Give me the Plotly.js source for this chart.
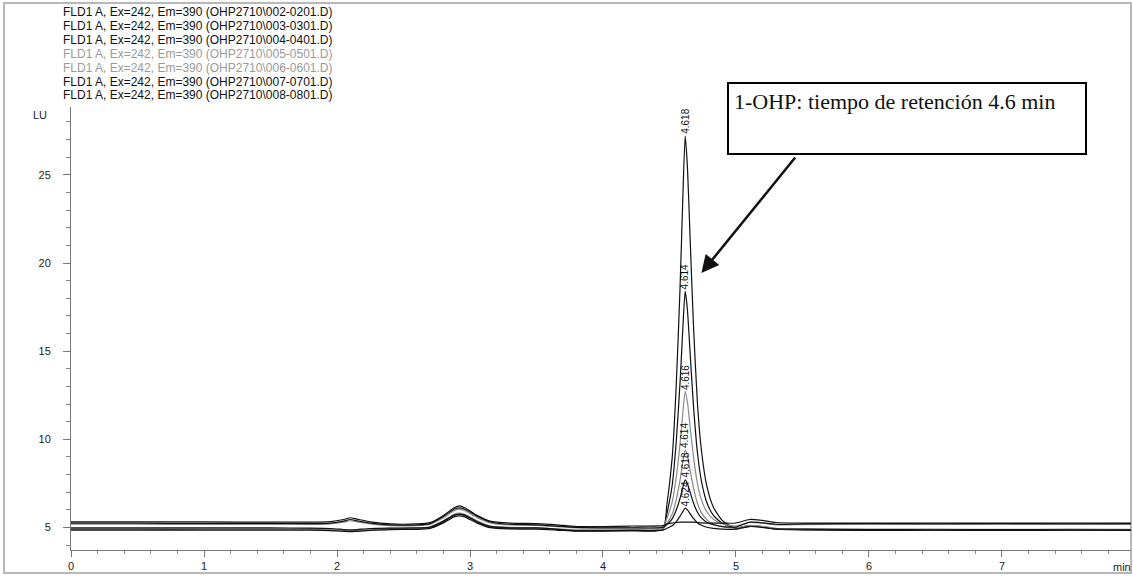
<!DOCTYPE html>
<html>
<head>
<meta charset="utf-8">
<script src="https://cdn.plot.ly/plotly-3.0.1.min.js"></script>
<style>html,body{margin:0;padding:0;background:#fff;}#chart{width:1133px;height:576px;}</style>
</head>
<body>
<div id="chart"></div>
<script>
// Retention time (min) sample points shared by all traces
const timeMin = [0, 0.5, 1.0, 1.5, 1.8, 1.95, 2.05, 2.1, 2.15, 2.25,
  2.4, 2.6, 2.7, 2.8, 2.88, 2.92, 2.96, 3.05, 3.15, 3.3,
  3.5, 3.65, 3.8, 4.0, 4.2, 4.45, 4.48, 4.52, 4.55, 4.58,
  4.60, 4.618, 4.635, 4.655, 4.68, 4.71, 4.74, 4.78, 4.83, 4.9,
  5.0, 5.1, 5.18, 5.3, 5.5, 6.0, 6.5, 7.0, 7.5, 7.97];

// Signal (LU), one array per run
const run002 = [5.32, 5.32, 5.31, 5.30, 5.30, 5.33, 5.45, 5.55, 5.47, 5.32,
  5.20, 5.20, 5.27, 5.68, 6.12, 6.22, 6.12, 5.70, 5.36, 5.25,
  5.22, 5.15, 5.05, 5.05, 5.08, 5.10, 5.20, 5.25, 5.28, 5.30,
  5.30, 5.30, 5.30, 5.30, 5.30, 5.28, 5.26, 5.25, 5.24, 5.24,
  5.25, 5.45, 5.42, 5.28, 5.25, 5.25, 5.24, 5.25, 5.24, 5.24];
const run003 = [4.98, 4.98, 4.97, 4.97, 4.96, 4.94, 4.88, 4.86, 4.88, 4.94,
  4.96, 4.97, 5.02, 5.36, 5.70, 5.76, 5.70, 5.34, 5.06, 4.98,
  4.97, 4.90, 4.82, 4.82, 4.83, 4.85, 4.95, 5.10, 5.32, 5.64,
  5.90, 6.10, 6.00, 5.78, 5.51, 5.27, 5.12, 5.01, 4.95, 4.90,
  4.90, 5.05, 5.02, 4.92, 4.90, 4.88, 4.87, 4.88, 4.87, 4.87];
const run004 = [5.24, 5.24, 5.23, 5.23, 5.22, 5.25, 5.36, 5.45, 5.38, 5.25,
  5.15, 5.14, 5.22, 5.62, 6.03, 6.11, 6.03, 5.65, 5.31, 5.18,
  5.15, 5.08, 5.00, 4.98, 4.98, 5.00, 5.16, 5.49, 5.97, 6.67,
  7.27, 7.70, 7.48, 7.00, 6.40, 5.86, 5.54, 5.30, 5.15, 5.05,
  5.02, 5.30, 5.28, 5.18, 5.20, 5.22, 5.21, 5.22, 5.21, 5.22];
const run005 = [4.93, 4.93, 4.92, 4.92, 4.92, 4.90, 4.85, 4.83, 4.85, 4.90,
  4.95, 4.96, 5.02, 5.38, 5.75, 5.82, 5.75, 5.39, 5.09, 5.00,
  4.98, 4.92, 4.86, 4.86, 4.88, 4.92, 5.22, 5.75, 6.55, 7.71,
  8.69, 9.40, 9.04, 8.24, 7.26, 6.37, 5.84, 5.44, 5.19, 5.04,
  4.97, 5.12, 5.08, 4.95, 4.92, 4.90, 4.90, 4.89, 4.90, 4.89];
const run006 = [5.18, 5.18, 5.17, 5.17, 5.17, 5.20, 5.30, 5.38, 5.32, 5.20,
  5.10, 5.10, 5.17, 5.55, 5.95, 6.02, 5.95, 5.57, 5.26, 5.14,
  5.12, 5.05, 4.98, 4.97, 4.98, 5.02, 5.51, 6.43, 7.80, 9.79,
  11.48, 12.70, 12.09, 10.71, 9.03, 7.50, 6.58, 5.89, 5.47, 5.20,
  5.08, 5.28, 5.25, 5.15, 5.16, 5.18, 5.17, 5.18, 5.17, 5.17];
const run007 = [4.90, 4.90, 4.89, 4.89, 4.89, 4.87, 4.82, 4.80, 4.82, 4.87,
  4.92, 4.93, 4.99, 5.32, 5.68, 5.74, 5.68, 5.32, 5.04, 4.96,
  4.95, 4.88, 4.82, 4.82, 4.84, 4.90, 5.76, 7.37, 9.79, 13.29,
  16.25, 18.40, 17.32, 14.90, 11.94, 9.25, 7.64, 6.43, 5.69, 5.22,
  4.98, 5.10, 5.06, 4.92, 4.88, 4.85, 4.86, 4.85, 4.86, 4.85];
const run008 = [4.85, 4.85, 4.84, 4.84, 4.84, 4.82, 4.78, 4.76, 4.78, 4.83,
  4.88, 4.89, 4.95, 5.26, 5.60, 5.66, 5.60, 5.26, 4.99, 4.92,
  4.90, 4.85, 4.79, 4.79, 4.81, 4.88, 6.26, 8.93, 12.94, 18.73,
  23.64, 27.20, 25.42, 21.41, 16.51, 12.05, 9.38, 7.37, 6.15, 5.37,
  4.95, 5.08, 5.04, 4.90, 4.86, 4.83, 4.84, 4.83, 4.84, 4.83];

const runNames = [
  'FLD1 A, Ex=242, Em=390 (OHP2710\\002-0201.D)',
  'FLD1 A, Ex=242, Em=390 (OHP2710\\003-0301.D)',
  'FLD1 A, Ex=242, Em=390 (OHP2710\\004-0401.D)',
  'FLD1 A, Ex=242, Em=390 (OHP2710\\005-0501.D)',
  'FLD1 A, Ex=242, Em=390 (OHP2710\\006-0601.D)',
  'FLD1 A, Ex=242, Em=390 (OHP2710\\007-0701.D)',
  'FLD1 A, Ex=242, Em=390 (OHP2710\\008-0801.D)'
];
const runColors = ['#111111', '#111111', '#111111', '#8a8a8a', '#8a8a8a', '#111111', '#111111'];
const runSeries = [run002, run003, run004, run005, run006, run007, run008];

// Integrated peak labels (retention time) and apex heights
const peakTimes = [4.618, 4.614, 4.616, 4.614, 4.618, 4.624];
const peakApex = [27.20, 18.40, 12.70, 9.40, 7.70, 6.10];

const xTickVals = [0, 1, 2, 3, 4, 5, 6, 7];
const yTickVals = [5, 10, 15, 20, 25];

const calloutText = '1-OHP: tiempo de retención 4.6 min';
const arrowTip = {x: 4.74, y: 19.43};

// ---- layout geometry (pixels) ----
const W = 1133, H = 576;
const L = 71, R = 2, T = 107, B = 26;
const pw = W - L - R, ph = H - T - B;
const px = v => (v - L) / pw;
const py = v => (H - B - v) / ph;

const traces = runSeries.map((ys, i) => ({
  x: timeMin, y: ys, type: 'scatter', mode: 'lines', name: runNames[i],
  line: {color: runColors[i], width: 1.2, shape: 'spline', smoothing: 0.6},
  hoverinfo: 'skip', showlegend: false
}));
traces.reverse();

const annotations = [];
runNames.forEach((n, i) => {
  annotations.push({
    xref: 'paper', yref: 'paper', x: px(61), y: py(12.5 + 13.8 * i),
    xanchor: 'left', yanchor: 'middle', showarrow: false, text: n,
    font: {family: 'Liberation Sans, Arial, sans-serif', size: 12, color: (runColors[i] === '#111111' ? '#111111' : '#9a9a9a')}
  });
});
peakTimes.forEach((t, i) => {
  annotations.push({
    x: t, y: peakApex[i], xref: 'x', yref: 'y', showarrow: false,
    text: t.toFixed(3), textangle: -90, xanchor: 'center', yanchor: 'bottom',
    font: {family: 'Liberation Sans, Arial, sans-serif', size: 10, color: '#111'}
  });
});
annotations.push({
  xref: 'paper', yref: 'paper', x: px(907), y: py(118.5), xanchor: 'center', yanchor: 'middle',
  showarrow: false, text: calloutText, align: 'left', valign: 'top',
  width: 346, height: 59, borderpad: 5, borderwidth: 2, bordercolor: '#000', bgcolor: '#fff',
  font: {family: 'Liberation Serif, Times New Roman, serif', size: 22, color: '#111'}
});
annotations.push({
  x: arrowTip.x, y: arrowTip.y, xref: 'x', yref: 'y', text: '', showarrow: true,
  ax: 95, ay: -117, arrowhead: 2, arrowsize: 1.4, arrowwidth: 2.5, arrowcolor: '#111', standoff: 0
});
annotations.push({
  xref: 'paper', yref: 'paper', x: px(40), y: py(115), xanchor: 'center', yanchor: 'middle',
  showarrow: false, text: 'LU', font: {family: 'Liberation Sans, Arial, sans-serif', size: 11, color: '#222'}
});
annotations.push({
  xref: 'paper', yref: 'paper', x: px(1122), y: py(567), xanchor: 'center', yanchor: 'middle',
  showarrow: false, text: 'min', font: {family: 'Liberation Sans, Arial, sans-serif', size: 11, color: '#222'}
});

const layout = {
  width: W, height: H,
  margin: {l: L, r: R, t: T, b: B, pad: 0},
  paper_bgcolor: '#fff', plot_bgcolor: '#fff',
  showlegend: false,
  font: {family: 'Liberation Sans, Arial, sans-serif', size: 11, color: '#222'},
  xaxis: {
    range: [0, 7.97], tickvals: xTickVals, ticktext: xTickVals.map(String),
    showline: true, linecolor: '#777', linewidth: 1, mirror: false,
    ticks: 'outside', ticklen: 6, tickcolor: '#777', showgrid: false, zeroline: false,
    minor: {dtick: 0.2, tick0: 0, ticks: 'outside', ticklen: 3, tickcolor: '#888', showgrid: false},
    tickfont: {size: 11, color: '#222'}
  },
  yaxis: {
    range: [3.72, 28.85], tickvals: yTickVals, ticktext: yTickVals.map(String),
    showline: true, linecolor: '#777', linewidth: 1,
    ticks: 'outside', ticklen: 7, tickcolor: '#777', showgrid: false, zeroline: false,
    ticklabelstandoff: 10,
    minor: {dtick: 1, tick0: 0, ticks: 'outside', ticklen: 4, tickcolor: '#888', showgrid: false},
    tickfont: {size: 11, color: '#222'}
  },
  shapes: [{
    type: 'rect', xref: 'paper', yref: 'paper',
    x0: px(4), x1: px(1131), y0: py(573), y1: py(3),
    line: {color: '#b8b8b8', width: 2}, fillcolor: 'rgba(0,0,0,0)', layer: 'below'
  }],
  annotations: annotations
};

Plotly.newPlot('chart', traces, layout, {staticPlot: true, displayModeBar: false});
</script>
</body>
</html>
